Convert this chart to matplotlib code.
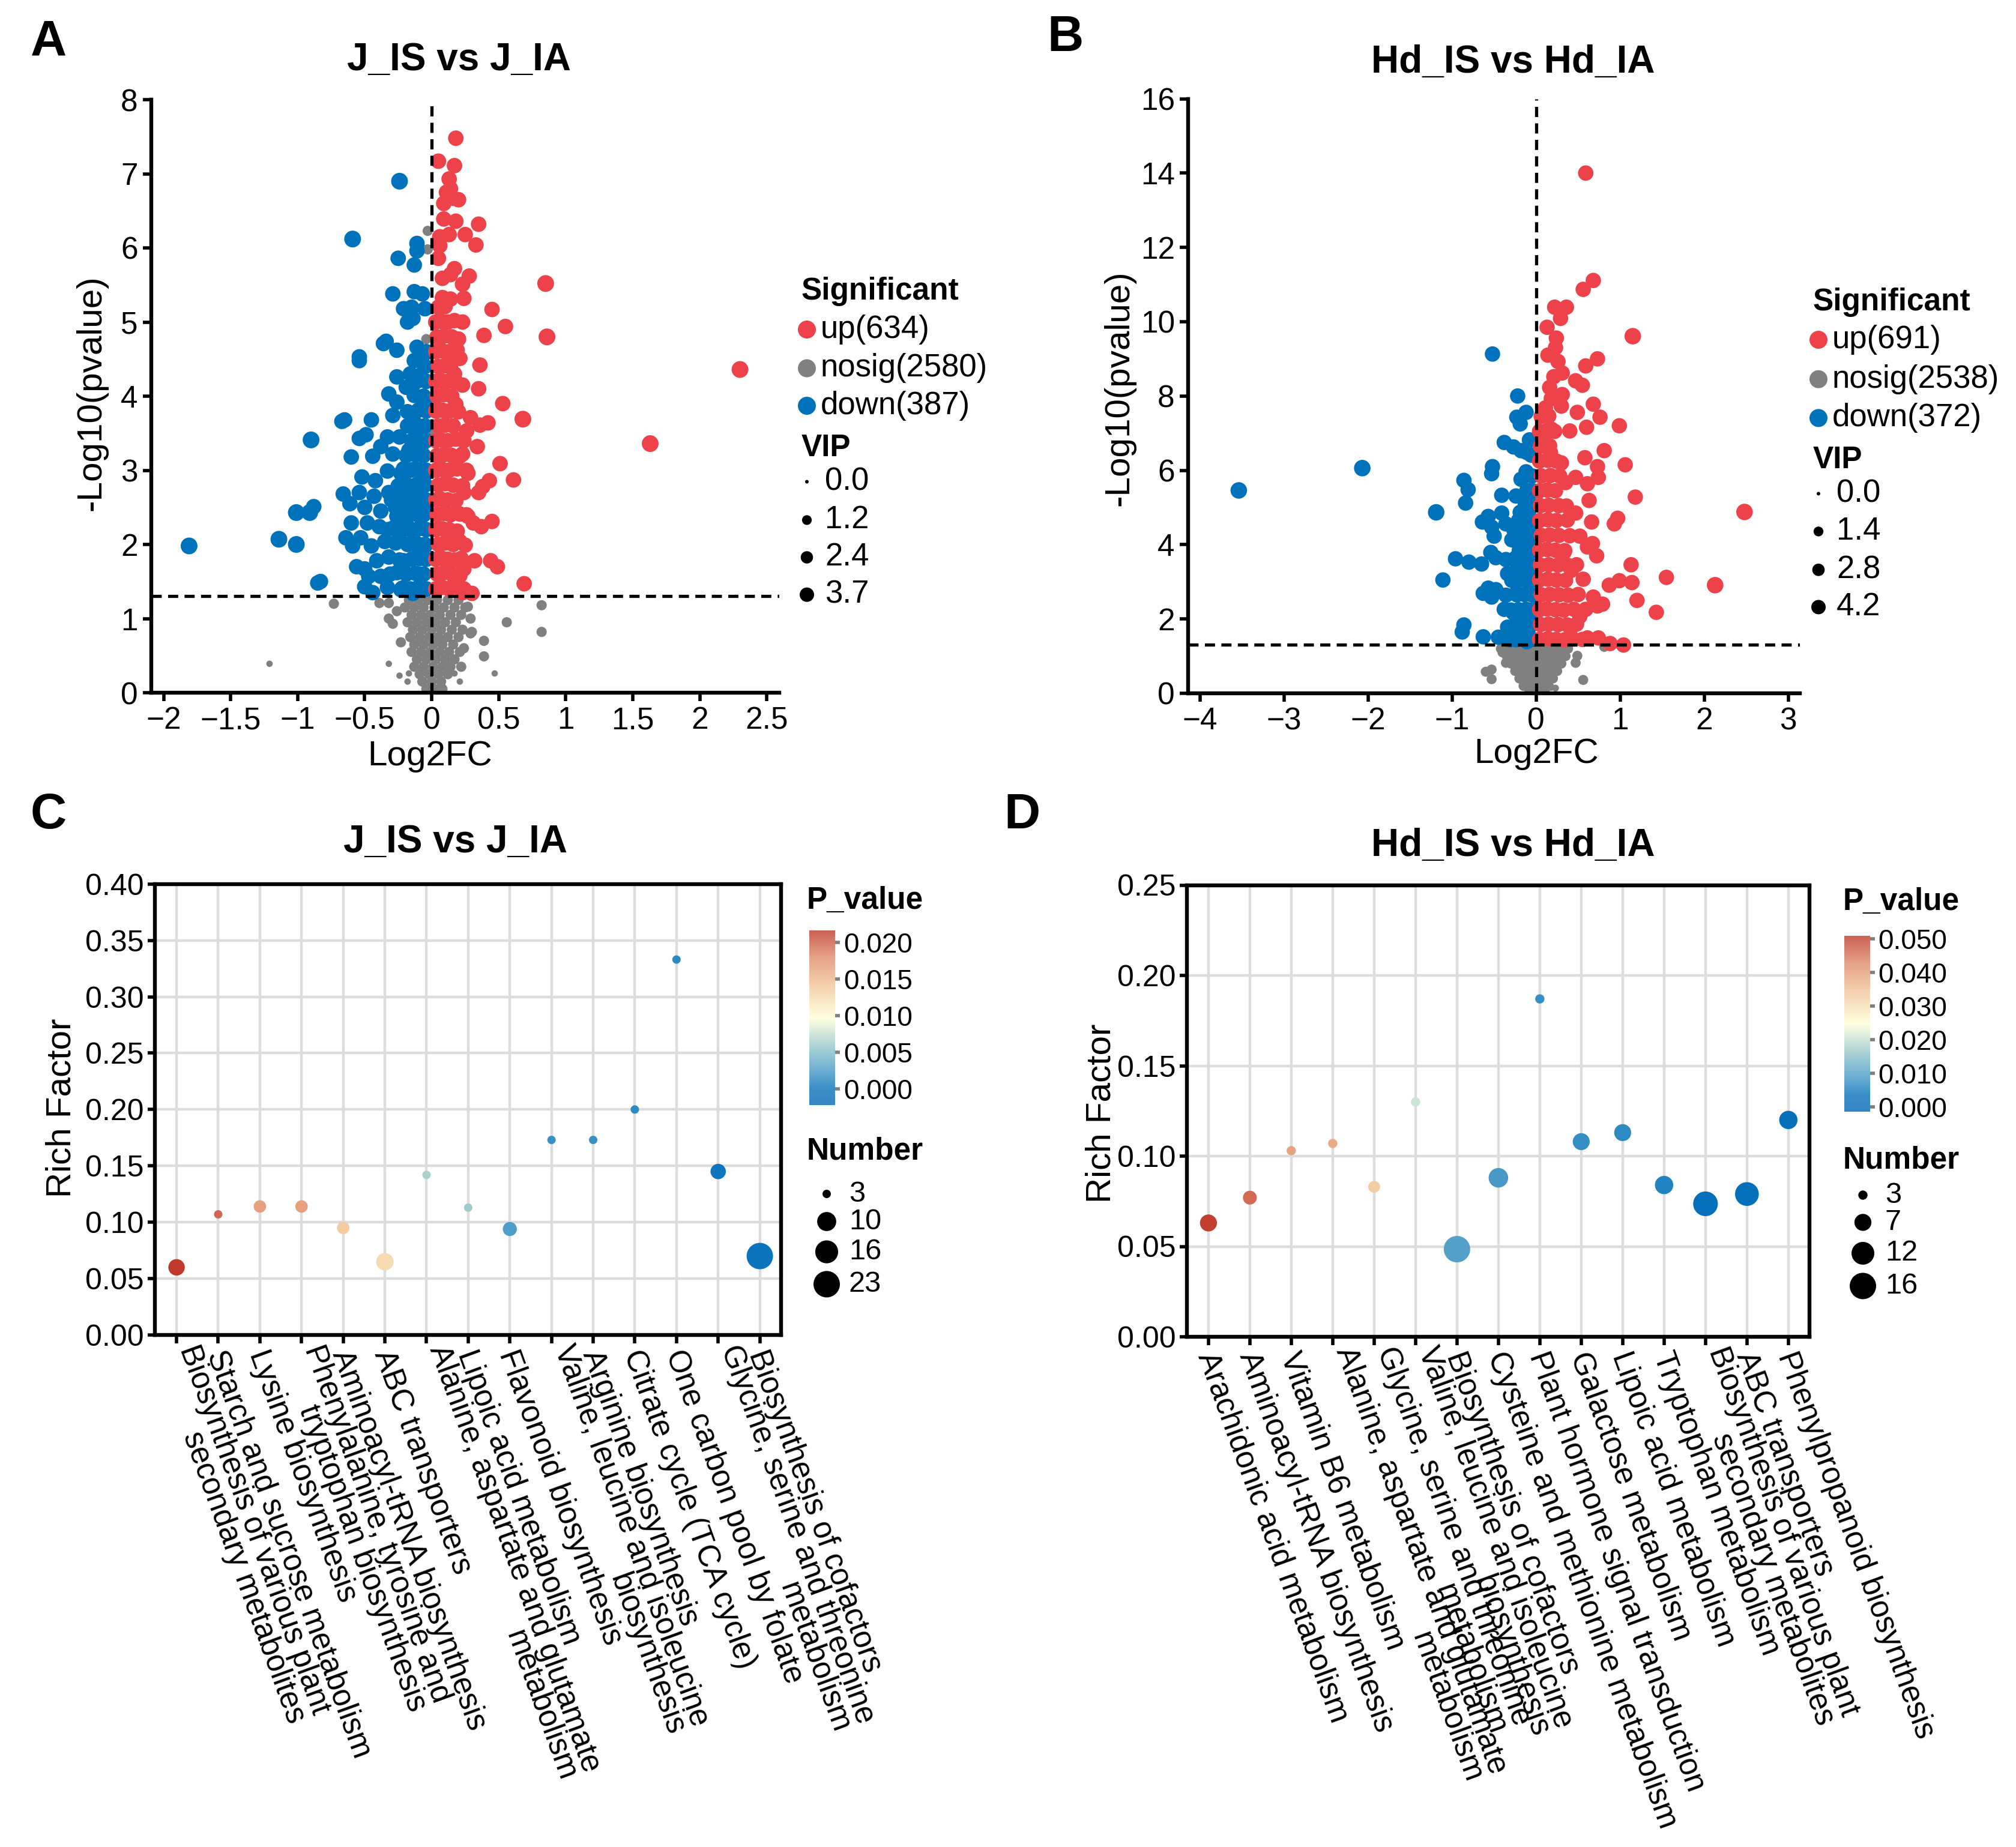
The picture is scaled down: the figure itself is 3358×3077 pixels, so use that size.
import numpy as np
import matplotlib
matplotlib.use('Agg')
import matplotlib.pyplot as plt
from matplotlib.colors import LinearSegmentedColormap, Normalize
from matplotlib.cm import ScalarMappable
from matplotlib.ticker import MultipleLocator, FuncFormatter

plt.rcParams['font.family'] = ['Liberation Sans', 'DejaVu Sans']

W, H = 3358, 3077
DPI = 200
PX = 72 / DPI  # points per pixel

# ---------------- volcano A: J_IS vs J_IA ----------------
a_counts = {'up': 634, 'nosig': 2580, 'down': 387}
a_vip_breaks = [0.0, 1.2, 2.4, 3.7]
a_vip_sig, a_vip_sig_large, a_vip_nosig, a_vip_nosig_small = 4.5, 5.5, 1.4, 0.25

a_up = [
    (0.18, 7.48), (0.05, 7.17), (0.17, 7.11), (0.13, 6.93), (0.14, 6.80), (0.11, 6.75), (0.20, 6.65),
    (0.16, 6.67), (0.09, 6.60), (0.09, 6.39), (0.18, 6.36), (0.35, 6.32), (0.13, 6.18), (0.25, 6.18),
    (0.06, 6.15), (0.33, 6.04), (0.06, 6.03), (0.05, 5.86), (0.17, 5.72), (0.28, 5.62), (0.14, 5.64),
    (0.08, 5.59), (0.23, 5.51), (0.08, 5.33), (0.14, 5.31), (0.24, 5.32), (0.45, 5.17), (0.55, 4.94),
    (0.39, 4.82), (0.36, 4.42), (0.35, 4.10), (0.53, 3.90), (0.29, 3.71), (0.42, 3.64), (0.36, 3.61),
    (0.34, 3.32), (0.51, 3.09), (0.61, 2.87), (0.43, 2.86), (0.38, 2.78), (0.35, 2.70), (0.45, 2.31),
    (0.31, 2.29), (0.37, 2.24), (0.44, 1.78), (0.49, 1.70), (0.32, 1.78), (0.69, 1.47), (0.30, 1.34),
    (0.23, 1.35), (0.23, 5.00), (0.20, 4.77), (0.21, 4.51), (0.17, 4.30), (0.23, 4.15), (0.18, 3.89),
    (0.26, 3.53), (0.23, 3.22), (0.27, 2.96), (0.24, 2.70), (0.26, 2.40), (0.21, 2.04), (0.24, 1.67),
    (0.17, 1.47),
    # dense core
    (0.03, 1.40), (0.08, 1.42), (0.13, 1.40), (0.18, 1.43), (0.24, 1.40),
    (0.04, 1.60), (0.09, 1.62), (0.15, 1.60), (0.21, 1.58),
    (0.03, 1.80), (0.07, 1.82), (0.12, 1.80), (0.17, 1.79), (0.22, 1.81),
    (0.05, 2.00), (0.10, 2.02), (0.16, 2.00), (0.25, 1.99),
    (0.03, 2.20), (0.08, 2.21), (0.13, 2.20), (0.19, 2.18),
    (0.04, 2.40), (0.09, 2.42), (0.14, 2.40), (0.21, 2.41), (0.27, 2.38),
    (0.03, 2.60), (0.07, 2.61), (0.12, 2.60), (0.18, 2.59),
    (0.05, 2.80), (0.10, 2.82), (0.16, 2.80), (0.23, 2.79),
    (0.03, 3.00), (0.08, 3.01), (0.13, 3.00), (0.19, 3.02), (0.26, 3.00),
    (0.04, 3.20), (0.09, 3.21), (0.15, 3.20), (0.21, 3.19),
    (0.03, 3.40), (0.07, 3.41), (0.12, 3.40), (0.18, 3.42), (0.24, 3.40),
    (0.05, 3.60), (0.10, 3.61), (0.16, 3.60),
    (0.03, 3.80), (0.08, 3.81), (0.13, 3.80), (0.20, 3.79),
    (0.04, 4.00), (0.09, 4.02), (0.15, 4.00),
    (0.03, 4.20), (0.07, 4.21), (0.12, 4.20), (0.18, 4.19),
    (0.05, 4.40), (0.10, 4.41), (0.14, 4.40),
    (0.03, 4.60), (0.08, 4.61), (0.13, 4.60), (0.19, 4.62),
    (0.04, 4.80), (0.09, 4.81), (0.15, 4.80),
    (0.03, 5.00), (0.07, 5.01), (0.12, 5.00), (0.17, 5.02),
    (0.05, 5.20), (0.10, 5.21),
]
a_up_large = [(2.30, 4.36), (1.63, 3.36), (0.85, 5.52), (0.86, 4.80), (0.68, 3.69)]

a_down = [
    (-0.11, 6.06), (-0.11, 5.96), (-0.25, 5.86), (-0.13, 5.77), (-0.29, 5.38), (-0.13, 5.41), (-0.07, 5.38),
    (-0.21, 5.18), (-0.15, 5.20), (-0.05, 5.18), (-0.18, 5.00), (-0.14, 5.05), (-0.36, 4.71), (-0.26, 4.62),
    (-0.11, 4.66), (-0.54, 4.48), (-0.13, 4.48), (-0.06, 4.56), (-0.26, 4.26), (-0.16, 4.30), (-0.09, 4.28),
    (-0.19, 4.12), (-0.32, 4.03), (-0.14, 4.15), (-0.05, 3.94), (-0.26, 3.92), (-0.18, 3.79), (-0.67, 3.66),
    (-0.45, 3.68), (-0.29, 3.74), (-0.14, 3.68), (-0.49, 3.48), (-0.54, 3.43), (-0.33, 3.45), (-0.24, 3.45),
    (-0.11, 3.53), (-0.38, 3.32), (-0.60, 3.18), (-0.44, 3.19), (-0.29, 3.22), (-0.17, 3.27), (-0.08, 3.32),
    (-0.52, 2.91), (-0.42, 2.86), (-0.33, 2.99), (-0.23, 2.96), (-0.14, 3.01), (-0.06, 2.91), (-0.66, 2.68),
    (-0.54, 2.70), (-0.43, 2.65), (-0.32, 2.70), (-0.21, 2.65), (-0.10, 2.70), (-0.61, 2.55), (-0.50, 2.50),
    (-0.38, 2.45), (-0.27, 2.50), (-0.17, 2.45), (-0.06, 2.50), (-0.60, 2.29), (-0.48, 2.29), (-0.39, 2.24),
    (-0.29, 2.22), (-0.18, 2.24), (-0.08, 2.24), (-0.64, 2.09), (-0.59, 1.98), (-0.53, 2.09), (-0.45, 1.98),
    (-0.35, 2.04), (-0.24, 2.06), (-0.14, 2.01), (-0.05, 1.98), (-0.41, 1.78), (-0.32, 1.83), (-0.21, 1.78),
    (-0.11, 1.83), (-0.56, 1.70), (-0.50, 1.67), (-0.47, 1.57), (-0.38, 1.57), (-0.31, 1.60), (-0.20, 1.62),
    (-0.09, 1.60), (-0.85, 1.48), (-0.50, 1.43), (-0.33, 1.42), (-0.23, 1.39), (-0.14, 1.34), (-0.06, 1.39),
    (-0.44, 1.35), (-0.88, 2.51), (-0.83, 1.50), (-0.65, 3.68), (-0.54, 4.53), (-0.34, 4.74),
    # dense core
    (-0.04, 1.40), (-0.10, 1.42), (-0.16, 1.40), (-0.22, 1.41),
    (-0.06, 1.60), (-0.12, 1.61), (-0.19, 1.60), (-0.26, 1.62),
    (-0.04, 1.80), (-0.09, 1.81), (-0.15, 1.80), (-0.24, 1.79),
    (-0.05, 2.00), (-0.11, 2.01), (-0.18, 2.00), (-0.27, 2.02),
    (-0.04, 2.20), (-0.10, 2.21), (-0.16, 2.20), (-0.23, 2.19), (-0.33, 2.20),
    (-0.06, 2.40), (-0.12, 2.41), (-0.19, 2.40), (-0.26, 2.38),
    (-0.04, 2.60), (-0.09, 2.61), (-0.15, 2.60), (-0.22, 2.62), (-0.30, 2.60),
    (-0.05, 2.80), (-0.11, 2.81), (-0.18, 2.80), (-0.25, 2.79),
    (-0.04, 3.00), (-0.10, 3.01), (-0.16, 3.00), (-0.21, 3.02),
    (-0.06, 3.20), (-0.12, 3.21), (-0.19, 3.20),
    (-0.04, 3.40), (-0.09, 3.41), (-0.15, 3.40),
    (-0.05, 3.60), (-0.11, 3.61), (-0.18, 3.60),
    (-0.04, 3.80), (-0.10, 3.81),
    (-0.06, 4.00), (-0.13, 4.01),
    (-0.04, 4.20), (-0.10, 4.21),
    (-0.05, 4.40), (-0.04, 4.60),
]
a_down_large = [(-1.81, 1.98), (-1.14, 2.07), (-1.01, 2.00), (-1.01, 2.43), (-0.91, 2.43),
                (-0.90, 3.41), (-0.24, 6.90), (-0.59, 6.12)]

a_nosig = [
    (-0.73, 1.20), (-0.39, 1.21), (-0.32, 1.21), (-0.32, 1.00), (-0.29, 0.93), (-0.23, 0.68), (0.82, 1.18),
    (0.56, 0.95), (0.82, 0.82), (0.39, 0.70), (0.30, 0.82), (0.39, 0.49), (0.27, 1.16), (0.29, 1.00),
    (-0.03, 6.23), (-0.03, 5.98), (-0.04, 4.77), (0.04, 5.18), (-0.02, 4.40), (0.00, 3.50), (-0.01, 2.80),
    (0.01, 2.20), (-0.02, 1.80), (0.29, 0.80), (-0.26, 1.10), (0.24, 0.60), (0.22, 0.35),
    # dense core
    (-0.17, 1.25), (-0.10, 1.25), (-0.03, 1.25), (0.04, 1.25), (0.12, 1.25), (0.20, 1.25),
    (-0.20, 1.15), (-0.13, 1.15), (-0.06, 1.15), (0.02, 1.15), (0.09, 1.15), (0.17, 1.15), (0.25, 1.15),
    (-0.15, 1.05), (-0.08, 1.05), (-0.01, 1.05), (0.06, 1.05), (0.14, 1.05), (0.22, 1.05),
    (-0.18, 0.95), (-0.11, 0.95), (-0.04, 0.95), (0.03, 0.95), (0.10, 0.95), (0.18, 0.95),
    (-0.14, 0.85), (-0.07, 0.85), (0.00, 0.85), (0.07, 0.85), (0.15, 0.85), (0.23, 0.85),
    (-0.16, 0.75), (-0.09, 0.75), (-0.02, 0.75), (0.05, 0.75), (0.12, 0.75), (0.20, 0.75),
    (-0.13, 0.65), (-0.06, 0.65), (0.01, 0.65), (0.08, 0.65), (0.16, 0.65),
    (-0.15, 0.55), (-0.08, 0.55), (-0.01, 0.55), (0.06, 0.55), (0.13, 0.55), (0.21, 0.55),
    (-0.11, 0.45), (-0.04, 0.45), (0.03, 0.45), (0.10, 0.45), (0.17, 0.45),
    (-0.13, 0.35), (-0.06, 0.35), (0.01, 0.35), (0.08, 0.35), (0.14, 0.35),
    (-0.09, 0.25), (-0.02, 0.25), (0.05, 0.25), (0.12, 0.25),
    (-0.07, 0.15), (0.00, 0.15), (0.07, 0.15),
    (-0.04, 0.05), (0.02, 0.05), (0.08, 0.05),
]
a_nosig_small = [(-1.21, 0.39), (-0.32, 0.39), (-0.24, 0.23), (-0.17, 0.26), (-0.18, 0.15),
                 (0.21, 0.15), (0.17, 0.26), (0.47, 0.26)]

# ---------------- volcano B: Hd_IS vs Hd_IA ----------------
b_counts = {'up': 691, 'nosig': 2538, 'down': 372}
b_vip_breaks = [0.0, 1.4, 2.8, 4.2]
b_vip_sig, b_vip_sig_large, b_vip_nosig, b_vip_nosig_small = 5.0, 6.0, 1.5, 0.4

b_up = [
    (0.59, 14.00), (0.68, 11.11), (0.56, 10.87), (0.22, 10.39), (0.36, 10.39), (0.29, 10.09), (0.13, 9.85),
    (0.24, 9.56), (0.23, 9.30), (0.14, 9.10), (0.73, 9.00), (0.26, 8.93), (0.59, 8.81), (0.31, 8.62),
    (0.21, 8.52), (0.47, 8.41), (0.55, 8.29), (0.16, 8.23), (0.31, 8.04), (0.18, 7.93), (0.68, 7.78),
    (0.11, 7.68), (0.30, 7.73), (0.49, 7.56), (0.76, 7.43), (0.99, 7.20), (0.60, 7.16), (0.18, 7.11),
    (0.40, 7.06), (0.81, 6.53), (0.58, 6.34), (1.06, 6.15), (0.73, 6.10), (0.30, 6.20), (0.17, 6.48),
    (0.09, 6.87), (0.35, 5.67), (0.74, 5.81), (0.61, 5.64), (0.47, 5.81), (1.18, 5.28), (0.63, 5.19),
    (0.47, 4.85), (0.97, 4.71), (0.93, 4.56), (0.66, 4.61), (0.37, 4.66), (0.52, 4.23), (0.67, 4.03),
    (0.61, 3.94), (0.72, 3.70), (1.13, 3.46), (0.33, 3.79), (0.42, 3.31), (1.55, 3.12), (1.14, 2.98),
    (0.99, 3.03), (0.87, 2.91), (0.56, 3.07), (1.20, 2.50), (1.43, 2.18), (0.73, 2.35), (0.79, 2.40),
    (0.59, 2.26), (0.68, 2.59), (0.74, 1.49), (0.88, 1.34), (1.04, 1.30), (0.61, 1.49), (0.42, 1.78),
    (0.52, 2.07),
    # dense core
    (0.04, 1.45), (0.14, 1.47), (0.24, 1.45), (0.34, 1.44), (0.44, 1.46), (0.55, 1.45),
    (0.05, 1.85), (0.15, 1.86), (0.26, 1.85), (0.37, 1.84), (0.48, 1.86),
    (0.04, 2.25), (0.13, 2.27), (0.23, 2.25), (0.33, 2.24), (0.45, 2.26),
    (0.06, 2.65), (0.16, 2.66), (0.27, 2.65), (0.38, 2.64), (0.50, 2.66),
    (0.04, 3.05), (0.14, 3.07), (0.24, 3.05), (0.35, 3.04),
    (0.05, 3.45), (0.15, 3.46), (0.26, 3.45), (0.38, 3.44), (0.48, 3.46),
    (0.04, 3.85), (0.13, 3.87), (0.23, 3.85), (0.34, 3.84),
    (0.06, 4.25), (0.16, 4.26), (0.27, 4.25), (0.40, 4.24),
    (0.04, 4.65), (0.14, 4.67), (0.24, 4.65),
    (0.05, 5.05), (0.15, 5.06), (0.27, 5.05), (0.36, 5.04),
    (0.04, 5.45), (0.13, 5.47), (0.23, 5.45),
    (0.06, 5.85), (0.17, 5.86), (0.28, 5.85),
    (0.04, 6.25), (0.14, 6.27), (0.24, 6.25),
    (0.05, 6.65), (0.16, 6.66),
    (0.04, 7.05), (0.13, 7.07), (0.22, 7.05),
    (0.06, 7.45), (0.15, 7.46),
]
b_up_large = [(2.48, 4.88), (2.13, 2.91), (1.15, 9.61)]

b_down = [
    (-0.52, 9.13), (-0.22, 8.00), (-0.12, 7.56), (-0.23, 7.43), (-0.19, 7.25), (-0.38, 6.75), (-0.27, 6.63),
    (-0.18, 6.53), (-0.08, 6.82), (-0.11, 6.48), (-0.06, 6.41), (-0.52, 6.10), (-0.53, 5.91), (-0.86, 5.73),
    (-0.12, 5.96), (-0.18, 5.76), (-0.81, 5.48), (-0.84, 5.12), (-0.41, 5.33), (-0.24, 5.31), (-0.10, 5.38),
    (-0.41, 4.85), (-0.19, 4.87), (-0.08, 4.95), (-0.64, 4.61), (-0.57, 4.76), (-0.53, 4.47), (-0.50, 4.23),
    (-0.36, 4.56), (-0.27, 4.42), (-0.15, 4.47), (-0.05, 4.56), (-0.29, 4.13), (-0.19, 4.03), (-0.08, 4.08),
    (-0.54, 3.79), (-0.48, 3.65), (-0.36, 3.60), (-0.24, 3.65), (-0.12, 3.70), (-0.96, 3.62), (-0.80, 3.53),
    (-0.65, 3.48), (-1.11, 3.05), (-0.34, 3.22), (-0.22, 3.12), (-0.08, 3.22), (-0.63, 2.69), (-0.57, 2.83),
    (-0.48, 2.79), (-0.36, 2.64), (-0.24, 2.69), (-0.11, 2.69), (-0.53, 2.59), (-0.38, 2.26), (-0.27, 2.16),
    (-0.15, 2.21), (-0.05, 2.16), (-0.86, 1.84), (-0.88, 1.65), (-0.63, 1.52), (-0.45, 1.51), (-0.34, 1.78),
    (-0.22, 1.73), (-0.10, 1.68), (-0.36, 1.49), (-0.24, 1.44), (-0.11, 1.39),
    # dense core
    (-0.04, 1.45), (-0.13, 1.46), (-0.22, 1.45), (-0.31, 1.44),
    (-0.05, 1.85), (-0.14, 1.86), (-0.24, 1.85),
    (-0.04, 2.25), (-0.12, 2.26), (-0.21, 2.25), (-0.30, 2.24),
    (-0.05, 2.65), (-0.14, 2.66), (-0.23, 2.65),
    (-0.04, 3.05), (-0.12, 3.06), (-0.20, 3.05), (-0.29, 3.04),
    (-0.05, 3.45), (-0.14, 3.46), (-0.22, 3.45),
    (-0.04, 3.85), (-0.12, 3.86), (-0.20, 3.85),
    (-0.05, 4.25), (-0.14, 4.26),
    (-0.04, 4.65), (-0.12, 4.66), (-0.21, 4.65),
    (-0.05, 5.05), (-0.13, 5.06),
    (-0.04, 5.45), (-0.11, 5.46),
    (-0.05, 5.85),
]
b_down_large = [(-3.54, 5.46), (-2.07, 6.06), (-1.19, 4.87)]

b_nosig = [
    (-0.60, 0.58), (-0.53, 0.64), (-0.53, 0.38), (0.56, 0.36), (0.47, 0.82), (0.49, 1.01), (0.81, 1.25),
    (-0.40, 1.10), (-0.36, 0.82), (0.01, 6.29), (0.02, 4.37), (0.01, 3.20), (0.02, 2.40), (-0.01, 5.30),
    # dense core
    (-0.42, 1.20), (-0.32, 1.20), (-0.22, 1.20), (-0.12, 1.20), (-0.02, 1.20), (0.08, 1.20), (0.18, 1.20),
    (0.28, 1.20), (0.38, 1.20),
    (-0.35, 1.00), (-0.25, 1.00), (-0.15, 1.00), (-0.05, 1.00), (0.05, 1.00), (0.15, 1.00), (0.25, 1.00),
    (0.35, 1.00),
    (-0.30, 0.80), (-0.20, 0.80), (-0.10, 0.80), (0.00, 0.80), (0.10, 0.80), (0.20, 0.80), (0.30, 0.80),
    (-0.25, 0.60), (-0.15, 0.60), (-0.05, 0.60), (0.05, 0.60), (0.15, 0.60), (0.25, 0.60),
    (-0.20, 0.40), (-0.10, 0.40), (0.00, 0.40), (0.10, 0.40), (0.20, 0.40),
    (-0.15, 0.20), (-0.05, 0.20), (0.05, 0.20), (0.15, 0.20),
    (-0.08, 0.05), (0.02, 0.05), (0.10, 0.05),
]
b_nosig_small = [(0.23, 0.14), (0.18, 0.16)]

# ---------------- enrichment C: J_IS vs J_IA ----------------
c_pathways = [
    'Biosynthesis of various plant\nsecondary metabolites',
    'Starch and sucrose metabolism',
    'Lysine biosynthesis',
    'Phenylalanine, tyrosine and\ntryptophan biosynthesis',
    'Aminoacyl-tRNA biosynthesis',
    'ABC transporters',
    'Alanine, aspartate and glutamate\nmetabolism',
    'Lipoic acid metabolism',
    'Flavonoid biosynthesis',
    'Valine, leucine and isoleucine\nbiosynthesis',
    'Arginine biosynthesis',
    'Citrate cycle (TCA cycle)',
    'One carbon pool by folate',
    'Glycine, serine and threonine\nmetabolism',
    'Biosynthesis of cofactors',
]
c_rich = [0.060, 0.107, 0.114, 0.114, 0.095, 0.065, 0.142, 0.113, 0.094, 0.173, 0.173, 0.200, 0.333, 0.145, 0.070]
c_pval = [0.0215, 0.0195, 0.0165, 0.0165, 0.0135, 0.0125, 0.0065, 0.0060, 0.0028, 0.0019, 0.0019, 0.0014,
          0.0014, 0.0003, 0.0001]
c_number = [7, 3, 4, 4, 4, 8, 3, 3, 5, 3, 3, 3, 3, 6, 23]
c_num_breaks = [3, 10, 16, 23]
c_p_ticks = [0.000, 0.005, 0.010, 0.015, 0.020]

# ---------------- enrichment D: Hd_IS vs Hd_IA ----------------
d_pathways = [
    'Arachidonic acid metabolism',
    'Aminoacyl-tRNA biosynthesis',
    'Vitamin B6 metabolism',
    'Alanine, aspartate and glutamate\nmetabolism',
    'Glycine, serine and threonine\nmetabolism',
    'Valine, leucine and isoleucine\nbiosynthesis',
    'Biosynthesis of cofactors',
    'Cysteine and methionine metabolism',
    'Plant hormone signal transduction',
    'Galactose metabolism',
    'Lipoic acid metabolism',
    'Tryptophan metabolism',
    'Biosynthesis of various plant\nsecondary metabolites',
    'ABC transporters',
    'Phenylpropanoid biosynthesis',
]
d_rich = [0.063, 0.077, 0.103, 0.107, 0.083, 0.130, 0.0485, 0.088, 0.187, 0.108, 0.113, 0.084, 0.0736, 0.079,
          0.120]
d_pval = [0.0500, 0.0460, 0.0390, 0.0380, 0.0330, 0.0206, 0.0100, 0.0090, 0.0075, 0.0075, 0.0070, 0.0060,
          0.0018, 0.0018, 0.0025]
d_number = [7, 5, 3, 3, 4, 3, 16, 9, 3, 7, 7, 8, 14, 13, 8]
d_num_breaks = [3, 7, 12, 16]
d_p_ticks = [0.000, 0.010, 0.020, 0.030, 0.040, 0.050]

UP, DOWN, NOSIG = '#EE424B', '#0072BC', '#808080'
rich_cmap = LinearSegmentedColormap.from_list('rich', [
    (0.0, '#0068B5'), (0.1, '#0B74BC'), (0.2, '#4A9BC8'), (0.33, '#93C6CA'), (0.5, '#FFFFD8'),
    (0.68, '#F2C79C'), (0.85, '#DF8A6C'), (1.0, '#C0392B')])


def px_rect(x0, y0, x1, y1):
    return [x0 / W, 1 - y1 / H, (x1 - x0) / W, (y1 - y0) / H]


def vip_size(v, vmax):
    return ((6 + 18 * np.sqrt(v / vmax)) * PX) ** 2


def num_size(n, lo, hi, dmin, dmax):
    return ((dmin + (dmax - dmin) * np.sqrt(max(n - lo, 0) / (hi - lo))) * PX) ** 2


fig = plt.figure(figsize=(W / DPI, H / DPI), dpi=DPI)
ov = fig.add_axes([0, 0, 1, 1], zorder=10)
ov.set_xlim(0, W)
ov.set_ylim(H, 0)
ov.axis('off')
ov.patch.set_visible(False)

fmt_g = FuncFormatter(lambda v, _: f'{v:g}'.replace('-', '\u2212'))


def volcano(rect, groups, vmax, xlim, ylim, xstep, ystep):
    ax = fig.add_axes(px_rect(*rect))
    for pts, color, vip in groups:
        xs, ys = zip(*pts)
        ax.scatter(xs, ys, s=vip_size(vip, vmax), c=color, edgecolors='none', zorder=2)
    ax.axvline(0, color='black', lw=1.9, ls=(0, (3.2, 2.0)), zorder=4)
    ax.axhline(-np.log10(0.05), color='black', lw=1.9, ls=(0, (3.2, 2.0)), zorder=4)
    ax.set_xlim(*xlim)
    ax.set_ylim(*ylim)
    ax.xaxis.set_major_locator(MultipleLocator(xstep))
    ax.yaxis.set_major_locator(MultipleLocator(ystep))
    ax.xaxis.set_major_formatter(fmt_g)
    ax.yaxis.set_major_formatter(fmt_g)
    for s in ['top', 'right']:
        ax.spines[s].set_visible(False)
    for s in ['left', 'bottom']:
        ax.spines[s].set_linewidth(2.3)
    ax.tick_params(labelsize=18.5, length=5, width=2, pad=3, colors='black')
    return ax


volcano((252, 166, 1298, 1154),
        [(a_nosig, NOSIG, a_vip_nosig), (a_nosig_small, NOSIG, a_vip_nosig_small),
         (a_down, DOWN, a_vip_sig), (a_down_large, DOWN, a_vip_sig_large),
         (a_up, UP, a_vip_sig), (a_up_large, UP, a_vip_sig_large)],
        3.7, (-2.092, 2.593), (0, 8), 0.5, 1)
volcano((1979, 164.5, 2998, 1155),
        [(b_nosig, NOSIG, b_vip_nosig), (b_nosig_small, NOSIG, b_vip_nosig_small),
         (b_down, DOWN, b_vip_sig), (b_down_large, DOWN, b_vip_sig_large),
         (b_up, UP, b_vip_sig), (b_up_large, UP, b_vip_sig_large)],
        4.2, (-4.143, 3.139), (0, 16), 1, 2)


def volcano_legend(x, y_title, y_entries, counts, y_vip, y_vips, breaks, vmax):
    ov.text(x, y_title, 'Significant', fontsize=18.5, fontweight='bold', va='center', ha='left')
    for (name, color), yy in zip([('up', UP), ('nosig', NOSIG), ('down', DOWN)], y_entries):
        ov.scatter([x + 9], [yy], s=(30 * PX) ** 2, c=color, edgecolors='none')
        ov.text(x + 32, yy, f'{name}({counts[name]})', fontsize=19, va='center', ha='left')
    ov.text(x, y_vip, 'VIP', fontsize=18.5, fontweight='bold', va='center', ha='left')
    for b, yy in zip(breaks, y_vips):
        ov.scatter([x + 9], [yy], s=vip_size(b, vmax), c='black', edgecolors='none')
        ov.text(x + 39, yy, f'{b:.1f}', fontsize=19, va='center', ha='left')


volcano_legend(1335, 485, [549, 613.5, 676], a_counts, 746, [802.5, 866.4, 928.5, 990.7], a_vip_breaks, 3.7)
volcano_legend(3020, 504, [566, 631.7, 696.4], b_counts, 767, [822.4, 885.4, 949.3, 1011.4], b_vip_breaks, 4.2)


def enrichment(rect, names, rich, pval, nums, norm, ylim, size_args):
    ax = fig.add_axes(px_rect(*rect))
    xs = np.arange(len(names))
    ax.scatter(xs, rich, s=[num_size(n, *size_args) for n in nums], c=pval, cmap=rich_cmap, norm=norm,
               edgecolors='none', zorder=3)
    ax.set_xlim(-0.52, len(names) - 0.49)
    ax.set_ylim(*ylim)
    ax.set_xticks(xs)
    ax.set_xticklabels(names, rotation=-70, ha='left', va='center_baseline', rotation_mode='anchor',
                       multialignment='right', linespacing=0.85, fontsize=18.5)
    ax.yaxis.set_major_locator(MultipleLocator(0.05))
    ax.yaxis.set_major_formatter(FuncFormatter(lambda v, _: f'{v:.2f}'))
    ax.grid(True, color='#DDDDDD', lw=1.6)
    ax.set_axisbelow(True)
    for s in ax.spines.values():
        s.set_linewidth(2.3)
    ax.tick_params(axis='y', labelsize=18, length=4.5, width=2, pad=2)
    ax.tick_params(axis='x', length=5, width=2, pad=4)
    return ax


c_norm = Normalize(vmin=-0.00224, vmax=0.02159)
d_norm = Normalize(vmin=-0.0013, vmax=0.05075)
c_size = (3, 23, 14, 44)
d_size = (2, 16, 5, 44)
enrichment((258, 1472.7, 1301, 2224), c_pathways, c_rich, c_pval, c_number, c_norm, (0, 0.40), c_size)
enrichment((1977, 1474.5, 3014, 2227), d_pathways, d_rich, d_pval, d_number, d_norm, (0, 0.25), d_size)


def enrich_legend(x, y_title, cbar_rect, norm, ticks, y_num, y_nums, breaks, size_args):
    ov.text(x, y_title, 'P_value', fontsize=18.5, fontweight='bold', va='center', ha='left')
    cax = fig.add_axes(px_rect(*cbar_rect))
    cb = fig.colorbar(ScalarMappable(norm=norm, cmap=rich_cmap), cax=cax, alpha=0.8)
    cb.outline.set_visible(False)
    cb.set_ticks(ticks)
    cb.ax.yaxis.set_major_formatter(FuncFormatter(lambda v, _: f'{v:.3f}'))
    cb.ax.tick_params(length=3, width=2, color='#7F7F7F', labelsize=16.5, pad=2)
    ov.text(x, y_num, 'Number', fontsize=18.5, fontweight='bold', va='center', ha='left')
    for b, yy in zip(breaks, y_nums):
        ov.scatter([x + 33], [yy], s=num_size(b, *size_args), c='black', edgecolors='none')
        ov.text(x + 70, yy, str(b), fontsize=17.5, va='center', ha='left')


enrich_legend(1344, 1501, (1347.6, 1550.3, 1391, 1841.2), c_norm, c_p_ticks, 1918,
              [1989, 2035, 2085.5, 2139.4], c_num_breaks, c_size)
enrich_legend(3070, 1503, (3071.5, 1559.4, 3114.8, 1851.5), d_norm, d_p_ticks, 1933,
              [1991, 2036.4, 2087.9, 2142.4], d_num_breaks, d_size)

# panel letters, titles and axis titles
for letter, x, y in [('A', 81, 70), ('B', 1774, 63), ('C', 81, 1358), ('D', 1703, 1358)]:
    ov.text(x, y, letter, fontsize=30, fontweight='bold', ha='center', va='center')
for title, x, y in [('J_IS vs J_IA', 764, 100), ('Hd_IS vs Hd_IA', 2520, 104),
                    ('J_IS vs J_IA', 759, 1403), ('Hd_IS vs Hd_IA', 2520, 1409)]:
    ov.text(x, y, title, fontsize=23, fontweight='bold', ha='center', va='center')
ov.text(716, 1260, 'Log2FC', fontsize=21, ha='center', va='center')
ov.text(2559, 1256, 'Log2FC', fontsize=21, ha='center', va='center')
ov.text(152, 655, '-Log10(pvalue)', fontsize=21, ha='center', va='center', rotation=90)
ov.text(1864, 647, '-Log10(pvalue)', fontsize=21, ha='center', va='center', rotation=90)
ov.text(103, 1846, 'Rich Factor', fontsize=21, ha='center', va='center', rotation=90)
ov.text(1835, 1855, 'Rich Factor', fontsize=21, ha='center', va='center', rotation=90)

fig.savefig('out.png', dpi=DPI)
